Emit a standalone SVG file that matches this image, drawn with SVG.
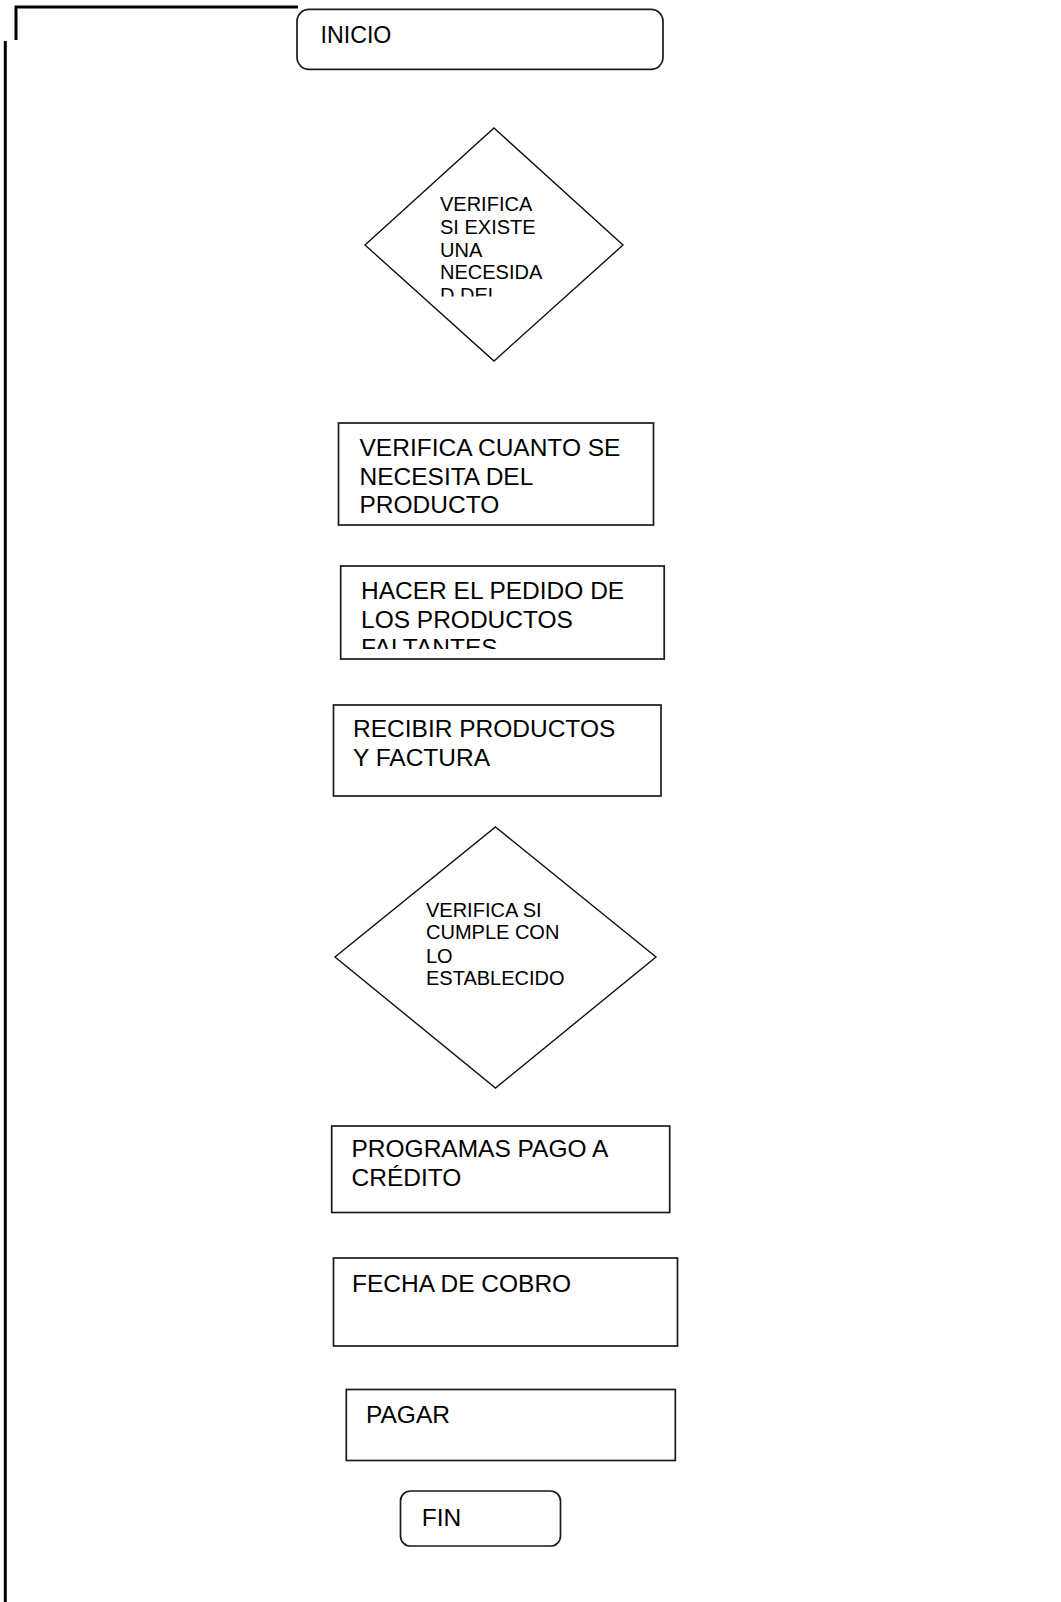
<svg xmlns="http://www.w3.org/2000/svg" width="1061" height="1602" viewBox="0 0 1061 1602">
<style>
.box{fill:#fff;stroke:#1a1a1a;stroke-width:1.7}
.dia{fill:#fff;stroke:#111;stroke-width:1.4}
.t{font-family:"Liberation Sans",Arial,sans-serif;font-size:24.5px;fill:#000}
.ts{font-family:"Liberation Sans",Arial,sans-serif;font-size:20px;fill:#000}
.ln{stroke:#000;stroke-width:3;fill:none}
</style>
<defs>
<clipPath id="c1"><rect x="430" y="180" width="120" height="116.5"/></clipPath>
<clipPath id="c2"><rect x="345" y="570" width="315" height="79"/></clipPath>
</defs>
<rect width="1061" height="1602" fill="#fff"/>
<g id="connectors">
<polyline class="ln" points="16,40 16,7 298,7"/>
<line class="ln" x1="5.3" y1="41" x2="5.3" y2="1602"/>
</g>
<g id="inicio">
<rect class="box" x="297" y="9.3" width="366" height="60" rx="12"/>
<text class="t" style="font-size:23.2px" x="320.5" y="42.7">INICIO</text>
</g>
<g id="decision1">
<polygon class="dia" points="494,128 623,245 494,361 365,245"/>
<g clip-path="url(#c1)">
<text class="ts" x="440" y="210.7">VERIFICA</text>
<text class="ts" x="440" y="233.5">SI EXISTE</text>
<text class="ts" x="440" y="256.5">UNA</text>
<text class="ts" x="440" y="279">NECESIDA</text>
<text class="ts" x="440" y="302">D DEL</text>
</g>
</g>
<g id="verifica-cuanto">
<rect class="box" x="338.5" y="423" width="315" height="102"/>
<text class="t" x="359.5" y="456">VERIFICA CUANTO SE</text>
<text class="t" x="359.5" y="485">NECESITA DEL</text>
<text class="t" x="359.5" y="513">PRODUCTO</text>
</g>
<g id="hacer-pedido">
<rect class="box" x="340.7" y="566" width="323.5" height="93"/>
<g clip-path="url(#c2)">
<text class="t" x="361" y="599">HACER EL PEDIDO DE</text>
<text class="t" x="361" y="627.5">LOS PRODUCTOS</text>
<text class="t" x="361" y="656">FALTANTES</text>
</g>
</g>
<g id="recibir">
<rect class="box" x="333.5" y="705" width="327.5" height="91"/>
<text class="t" x="353" y="737">RECIBIR PRODUCTOS</text>
<text class="t" x="353" y="766">Y FACTURA</text>
</g>
<g id="decision2">
<polygon class="dia" points="495.5,827 656,957 495.5,1088 335,957"/>
<text class="ts" x="426" y="916.5">VERIFICA SI</text>
<text class="ts" x="426" y="939">CUMPLE CON</text>
<text class="ts" x="426" y="962.5">LO</text>
<text class="ts" x="426" y="985">ESTABLECIDO</text>
</g>
<g id="programas">
<rect class="box" x="331.7" y="1126" width="338" height="86.5"/>
<text class="t" x="351.5" y="1157">PROGRAMAS PAGO A</text>
<text class="t" x="351.5" y="1186">CRÉDITO</text>
</g>
<g id="fecha">
<rect class="box" x="333.5" y="1258" width="344" height="88"/>
<text class="t" x="352" y="1292">FECHA DE COBRO</text>
</g>
<g id="pagar">
<rect class="box" x="346.3" y="1389.5" width="329" height="71"/>
<text class="t" x="366" y="1422.7">PAGAR</text>
</g>
<g id="fin">
<rect class="box" x="400.5" y="1491" width="160" height="55" rx="10"/>
<text class="t" x="421.7" y="1526">FIN</text>
</g>
</svg>
